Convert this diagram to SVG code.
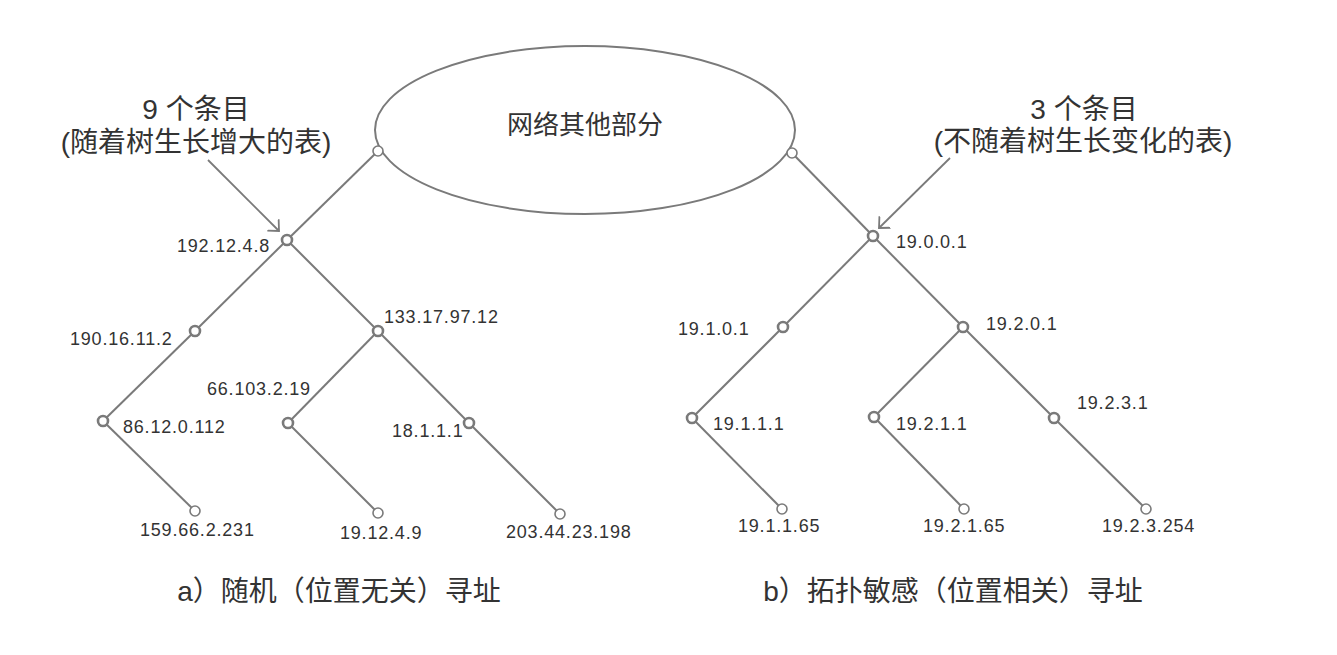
<svg xmlns="http://www.w3.org/2000/svg" width="1337" height="655" viewBox="0 0 1337 655">
  <style>
    .edge { stroke: #7a7a7a; stroke-width: 2; fill: none; }
    .arrow { stroke: #7a7a7a; stroke-width: 1.8; fill: none; }
    .inner { fill: #ffffff; stroke: #7a7a7a; stroke-width: 2.6; }
    .leaf { fill: #ffffff; stroke: #7a7a7a; stroke-width: 1.6; }
    .lbl { font-family: "Liberation Sans", Arial, sans-serif; font-size: 18px; letter-spacing: 0.8px; fill: #333333; }
    .cjk { font-family: "Liberation Sans", "Noto Sans CJK SC", sans-serif; fill: #333333; }
    .note { font-size: 28px; text-anchor: middle; }
    .cap { font-size: 28px; text-anchor: middle; }
  </style>
  <defs>
    <marker id="chev" markerUnits="userSpaceOnUse" viewBox="0 0 10 20" refX="8.5" refY="10" markerWidth="10" markerHeight="20" orient="auto">
      <path d="M0,2 L8.5,10 L0,18" fill="none" stroke="#7a7a7a" stroke-width="1.8"/>
    </marker>
  </defs>
  <rect width="1337" height="655" fill="#ffffff"/>

  <g id="connectors">
    <!-- left tree -->
    <line class="edge" x1="378" y1="151" x2="287" y2="240"/>
    <line class="edge" x1="287" y1="240" x2="195" y2="331"/>
    <line class="edge" x1="195" y1="331" x2="103" y2="421"/>
    <line class="edge" x1="103" y1="421" x2="195" y2="511"/>
    <line class="edge" x1="287" y1="240" x2="378" y2="331"/>
    <line class="edge" x1="378" y1="331" x2="288" y2="423"/>
    <line class="edge" x1="288" y1="423" x2="378" y2="513"/>
    <line class="edge" x1="378" y1="331" x2="469" y2="423"/>
    <line class="edge" x1="469" y1="423" x2="560" y2="514"/>
    <!-- right tree -->
    <line class="edge" x1="792" y1="153" x2="873" y2="236"/>
    <line class="edge" x1="873" y1="236" x2="783" y2="327"/>
    <line class="edge" x1="783" y1="327" x2="692" y2="418"/>
    <line class="edge" x1="692" y1="418" x2="782" y2="509"/>
    <line class="edge" x1="873" y1="236" x2="963" y2="327"/>
    <line class="edge" x1="963" y1="327" x2="874" y2="417"/>
    <line class="edge" x1="874" y1="417" x2="964" y2="509"/>
    <line class="edge" x1="963" y1="327" x2="1054" y2="418"/>
    <line class="edge" x1="1054" y1="418" x2="1146" y2="509"/>
    <!-- annotation arrows -->
    <line class="arrow" x1="208" y1="160" x2="279" y2="231" marker-end="url(#chev)"/>
    <line class="arrow" x1="950" y1="158" x2="879" y2="228" marker-end="url(#chev)"/>
  </g>

  <g id="cloud">
    <ellipse cx="585" cy="130" rx="210" ry="84" fill="#ffffff" stroke="#7a7a7a" stroke-width="2"/>
    <text class="cjk" x="585" y="134" font-size="26" text-anchor="middle">网络其他部分</text>
  </g>

  <g id="gw-left"><circle class="leaf" cx="378" cy="151" r="5"/></g>
  <g id="gw-right"><circle class="leaf" cx="792" cy="153" r="5"/></g>

  <!-- left tree nodes -->
  <g id="n-192-12-4-8"><circle class="inner" cx="287" cy="240" r="5"/><text class="lbl" x="270" y="252" text-anchor="end">192.12.4.8</text></g>
  <g id="n-190-16-11-2"><circle class="inner" cx="195" cy="331" r="5"/><text class="lbl" x="70" y="345">190.16.11.2</text></g>
  <g id="n-133-17-97-12"><circle class="inner" cx="378" cy="331" r="5"/><text class="lbl" x="384" y="323">133.17.97.12</text></g>
  <g id="n-86-12-0-112"><circle class="inner" cx="103" cy="421" r="5"/><text class="lbl" x="123" y="433">86.12.0.112</text></g>
  <g id="n-66-103-2-19"><circle class="inner" cx="288" cy="423" r="5"/><text class="lbl" x="207" y="395">66.103.2.19</text></g>
  <g id="n-18-1-1-1"><circle class="inner" cx="469" cy="423" r="5"/><text class="lbl" x="392" y="437">18.1.1.1</text></g>
  <g id="n-159-66-2-231"><circle class="leaf" cx="195" cy="511" r="5"/><text class="lbl" x="140" y="536">159.66.2.231</text></g>
  <g id="n-19-12-4-9"><circle class="leaf" cx="378" cy="513" r="5"/><text class="lbl" x="340" y="539">19.12.4.9</text></g>
  <g id="n-203-44-23-198"><circle class="leaf" cx="560" cy="514" r="5"/><text class="lbl" x="506" y="538">203.44.23.198</text></g>

  <!-- right tree nodes -->
  <g id="n-19-0-0-1"><circle class="inner" cx="873" cy="236" r="5"/><text class="lbl" x="896" y="248">19.0.0.1</text></g>
  <g id="n-19-1-0-1"><circle class="inner" cx="783" cy="327" r="5"/><text class="lbl" x="678" y="335">19.1.0.1</text></g>
  <g id="n-19-2-0-1"><circle class="inner" cx="963" cy="327" r="5"/><text class="lbl" x="986" y="330">19.2.0.1</text></g>
  <g id="n-19-1-1-1"><circle class="inner" cx="692" cy="418" r="5"/><text class="lbl" x="713" y="430">19.1.1.1</text></g>
  <g id="n-19-2-1-1"><circle class="inner" cx="874" cy="417" r="5"/><text class="lbl" x="896" y="430">19.2.1.1</text></g>
  <g id="n-19-2-3-1"><circle class="inner" cx="1054" cy="418" r="5"/><text class="lbl" x="1077" y="409">19.2.3.1</text></g>
  <g id="n-19-1-1-65"><circle class="leaf" cx="782" cy="509" r="5"/><text class="lbl" x="738" y="532">19.1.1.65</text></g>
  <g id="n-19-2-1-65"><circle class="leaf" cx="964" cy="509" r="5"/><text class="lbl" x="923" y="532">19.2.1.65</text></g>
  <g id="n-19-2-3-254"><circle class="leaf" cx="1146" cy="509" r="5"/><text class="lbl" x="1102" y="532">19.2.3.254</text></g>

  <g id="note-left">
    <text class="cjk note" x="196" y="119">9 个条目</text>
    <text class="cjk note" x="196" y="152">(随着树生长增大的表)</text>
  </g>
  <g id="note-right">
    <text class="cjk note" x="1084" y="119">3 个条目</text>
    <text class="cjk note" x="1083" y="151">(不随着树生长变化的表)</text>
  </g>

  <g id="caption-a"><text class="cjk cap" x="339" y="601">a）随机（位置无关）寻址</text></g>
  <g id="caption-b"><text class="cjk cap" x="953" y="601">b）拓扑敏感（位置相关）寻址</text></g>
</svg>
